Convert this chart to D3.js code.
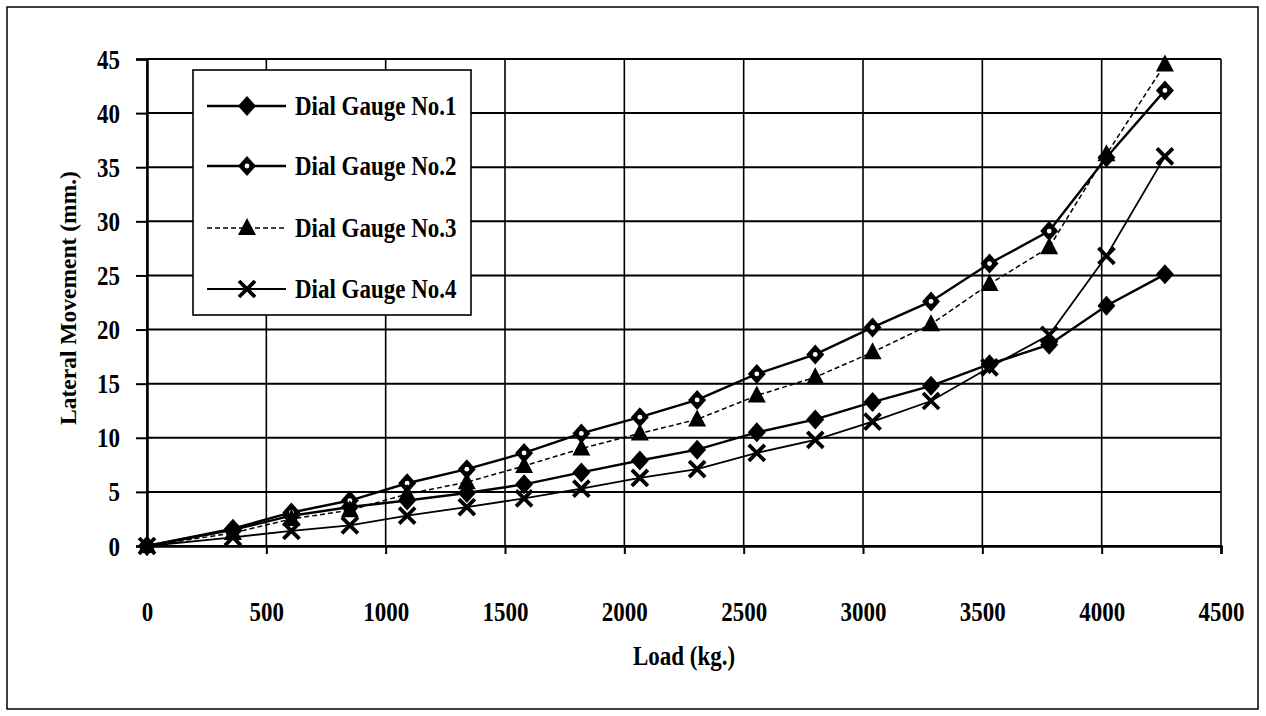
<!DOCTYPE html>
<html>
<head>
<meta charset="utf-8">
<script src="https://cdn.jsdelivr.net/npm/d3@7"></script>
<style>
  body { margin: 0; background: #fff; }
  svg text { font-family: "Liberation Serif", "Times New Roman", serif; font-weight: bold; fill: #000; }
</style>
</head>
<body>
<div id="chart"></div>
<script>
// load steps (kg.) and readings of the four dial gauges (mm.)
const loads = [0, 360, 605, 850, 1090, 1340, 1580, 1820, 2065, 2305, 2555, 2800, 3040, 3285, 3530, 3780, 4020, 4265];
const gauge1 = [0, 1.5, 2.8, 3.6, 4.2, 4.9, 5.7, 6.8, 7.9, 8.9, 10.5, 11.7, 13.3, 14.8, 16.8, 18.6, 22.2, 25.1];
const gauge2 = [0, 1.6, 3.1, 4.2, 5.8, 7.1, 8.6, 10.4, 11.9, 13.5, 15.9, 17.7, 20.2, 22.6, 26.1, 29.1, 35.9, 42.1];
const gauge3 = [0, 1.2, 2.5, 3.3, 4.8, 5.9, 7.4, 9.0, 10.4, 11.7, 13.9, 15.6, 17.9, 20.5, 24.2, 27.6, 36.2, 44.5];
const gauge4 = [0, 0.8, 1.4, 1.9, 2.8, 3.6, 4.4, 5.3, 6.3, 7.1, 8.6, 9.8, 11.5, 13.4, 16.5, 19.5, 26.8, 36.0];
const seriesNames = ["Dial Gauge No.1", "Dial Gauge No.2", "Dial Gauge No.3", "Dial Gauge No.4"];
const xTicks = [0, 500, 1000, 1500, 2000, 2500, 3000, 3500, 4000, 4500];
const yTicks = [0, 5, 10, 15, 20, 25, 30, 35, 40, 45];

const width = 1266;
const height = 716;
const margin = { top: 59, right: 45, bottom: 170, left: 147 };
const stretch = 1.18; // the scanned lettering is a bit taller than normal

const svg = d3.select("#chart")
  .append("svg")
  .attr("width", width)
  .attr("height", height);

// outer frame
svg.append("rect")
  .attr("x", 7).attr("y", 7)
  .attr("width", 1251).attr("height", 702)
  .attr("fill", "none")
  .attr("stroke", "#000")
  .attr("stroke-width", 1.5);

const xScale = d3.scaleLinear()
  .domain([0, 4500])
  .range([margin.left, width - margin.right]);

const yScale = d3.scaleLinear()
  .domain([0, 45])
  .range([height - margin.bottom, margin.top]);

// grid lines
svg.append("g")
  .selectAll("line")
  .data(yTicks)
  .join("line")
  .attr("x1", margin.left)
  .attr("x2", width - margin.right)
  .attr("y1", d => yScale(d))
  .attr("y2", d => yScale(d))
  .attr("stroke", "#000")
  .attr("stroke-width", 2);

svg.append("g")
  .selectAll("line")
  .data(xTicks)
  .join("line")
  .attr("x1", d => xScale(d))
  .attr("x2", d => xScale(d))
  .attr("y1", margin.top)
  .attr("y2", height - margin.bottom)
  .attr("stroke", "#000")
  .attr("stroke-width", 1.6);

// axes
const xAxis = d3.axisBottom(xScale).tickValues(xTicks).tickSize(8).tickFormat(d3.format("d"));
const yAxis = d3.axisLeft(yScale).tickValues(yTicks).tickSize(11);

const gx = svg.append("g")
  .attr("transform", `translate(0,${height - margin.bottom})`)
  .call(xAxis);
const gy = svg.append("g")
  .attr("transform", `translate(${margin.left},0)`)
  .call(yAxis);

[gx, gy].forEach(g => {
  g.select(".domain").attr("stroke", "#000").attr("stroke-width", 2.5);
  g.selectAll(".tick line").attr("stroke", "#000").attr("stroke-width", 2);
  g.selectAll(".tick text")
    .attr("font-size", 23)
    .attr("dy", null)
    .attr("transform", `scale(1,${stretch})`)
    .style("font-family", "Liberation Serif")
    .style("font-weight", "bold");
});
gx.selectAll(".tick text").attr("y", 75 / stretch);
gy.selectAll(".tick text").attr("x", -27).attr("y", 9 / stretch);

// axis titles
svg.append("text")
  .attr("transform", `translate(${(margin.left + width - margin.right) / 2},665) scale(1,${stretch})`)
  .attr("text-anchor", "middle")
  .attr("font-size", 23)
  .text("Load (kg.)");

svg.append("text")
  .attr("transform", `translate(76,298) rotate(-90)`)
  .attr("text-anchor", "middle")
  .attr("font-size", 23.5)
  .text("Lateral Movement (mm.)");

// series
const series = [gauge1, gauge2, gauge3, gauge4].map((vals, i) => ({
  name: seriesNames[i],
  points: loads.map((l, j) => ({ load: l, value: vals[j] }))
}));

const lineStyles = [
  { width: 2.4, dash: null },
  { width: 2.4, dash: null },
  { width: 1.5, dash: "5,3" },
  { width: 1.8, dash: null }
];

const line = d3.line()
  .x(d => xScale(d.load))
  .y(d => yScale(d.value));

series.forEach((s, i) => {
  svg.append("path")
    .datum(s.points)
    .attr("fill", "none")
    .attr("stroke", "#000")
    .attr("stroke-width", lineStyles[i].width)
    .attr("stroke-dasharray", lineStyles[i].dash)
    .attr("d", line);
});

// marker drawing
function drawMarker(g, type) {
  if (type === 0) {
    g.append("path").attr("d", "M0,-10L9,0L0,10L-9,0Z").attr("fill", "#000");
  } else if (type === 1) {
    g.append("path").attr("d", "M0,-10L9,0L0,10L-9,0Z").attr("fill", "#000");
    g.append("circle").attr("r", 2.4).attr("fill", "#fff");
  } else if (type === 2) {
    g.append("path").attr("d", "M0,-10L9,7L-9,7Z").attr("fill", "#000");
  } else {
    g.append("path").attr("d", "M-8,-8L8,8M-8,8L8,-8")
      .attr("stroke", "#000").attr("stroke-width", 3.8).attr("fill", "none");
  }
}

series.forEach((s, i) => {
  svg.append("g")
    .selectAll("g")
    .data(s.points)
    .join("g")
    .attr("transform", d => `translate(${xScale(d.load)},${yScale(d.value)})`)
    .each(function () { drawMarker(d3.select(this), i); });
});

// legend
const legend = svg.append("g");
legend.append("rect")
  .attr("x", 193).attr("y", 70)
  .attr("width", 278).attr("height", 245)
  .attr("fill", "#fff")
  .attr("stroke", "#000")
  .attr("stroke-width", 1.6);

const legendY = [106, 166, 228, 289];
series.forEach((s, i) => {
  const row = legend.append("g").attr("transform", `translate(0,${legendY[i]})`);
  row.append("line")
    .attr("x1", 207).attr("x2", 286)
    .attr("stroke", "#000")
    .attr("stroke-width", lineStyles[i].width)
    .attr("stroke-dasharray", lineStyles[i].dash);
  drawMarker(row.append("g").attr("transform", "translate(247,0)"), i);
  row.append("text")
    .attr("transform", `translate(295,9) scale(1,${stretch})`)
    .attr("font-size", 23)
    .text(s.name);
});
</script>
</body>
</html>
